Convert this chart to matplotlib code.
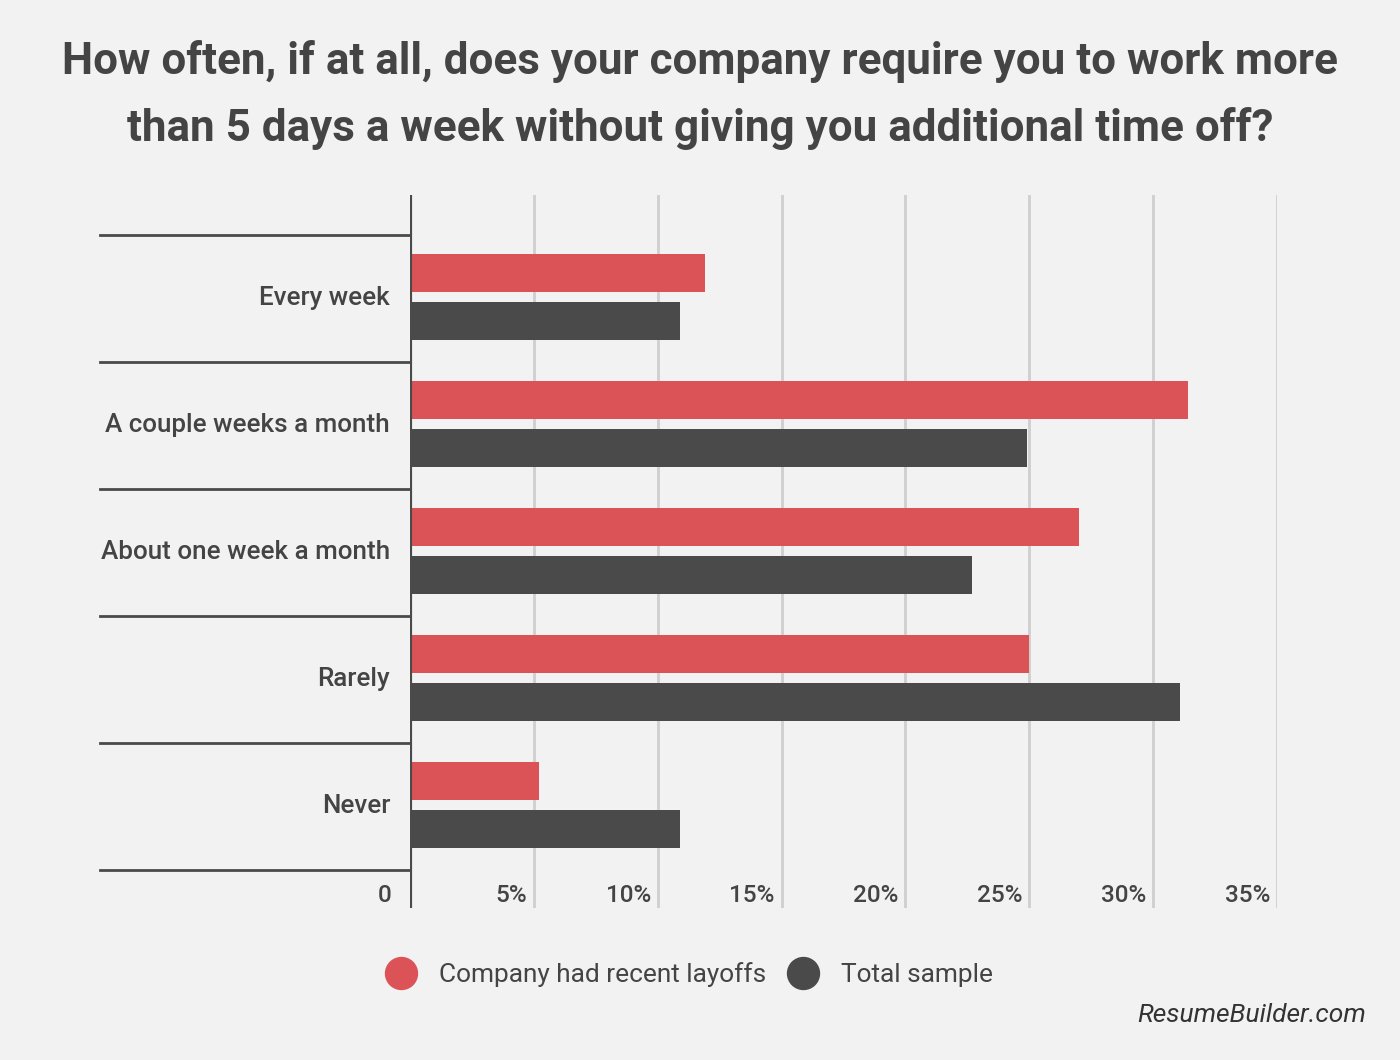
import numpy as np
import matplotlib
matplotlib.use("Agg")
import matplotlib.pyplot as plt
from matplotlib.lines import Line2D
from matplotlib.transforms import blended_transform_factory

categories = ["Every week", "A couple weeks a month", "About one week a month", "Rarely", "Never"]
layoffs = [11.9, 31.4, 27.0, 25.0, 5.2]
total = [10.9, 24.9, 22.7, 31.1, 10.9]
ticks = [0, 5, 10, 15, 20, 25, 30, 35]
tick_labels = ["0", "5%", "10%", "15%", "20%", "25%", "30%", "35%"]
series_names = ["Company had recent layoffs", "Total sample"]

BG = "#f2f2f2"
RED = "#dc5357"
DARK = "#4a4a4a"
TEXT = "#444444"

plt.rcParams["font.family"] = ["Roboto", "DejaVu Sans"]

fig = plt.figure(figsize=(14, 10.6), dpi=100, facecolor=BG)
ax = fig.add_axes([410 / 1400, 1 - 908 / 1060, 867 / 1400, 713 / 1060], facecolor=BG)

y = np.arange(len(categories))
ax.barh(y - 0.2, layoffs, height=0.3, color=RED, zorder=3)
ax.barh(y + 0.18, total, height=0.3, color=DARK, zorder=3)

ax.set_xlim(0, 35)
ax.set_ylim(len(categories) - 1 + 0.8, -0.815)

for t in ticks[1:]:
    ax.axvline(t, color="#cfcfcf", lw=2, zorder=1)
ax.axvline(0, color=DARK, lw=3, zorder=4)

for s in ax.spines.values():
    s.set_visible(False)
ax.set_xticks([])
ax.set_yticks([])

# tick labels sit inside the plot, left of each gridline
tb = blended_transform_factory(ax.transData, ax.transAxes)
for t, lab in zip(ticks, tick_labels):
    off = -0.75 if t == 0 else -0.28
    ax.text(t + off, 0.018, lab, transform=tb, ha="right", va="center",
            fontsize=17.5, fontweight="medium", color=TEXT)

# category separators and labels left of the axis
lb = blended_transform_factory(ax.transAxes, ax.transData)
for i in range(len(categories) + 1):
    ax.plot([-310 / 867, 0], [i - 0.5, i - 0.5], transform=lb, color=DARK,
            lw=2, clip_on=False, zorder=4)
for i, c in enumerate(categories):
    ax.text(-20 / 867, i, c, transform=lb, ha="right", va="center",
            fontsize=18.7, fontweight="medium", color=TEXT)

fig.text(0.5, 1 - 95 / 1060,
         "How often, if at all, does your company require you to work more\n"
         "than 5 days a week without giving you additional time off?",
         ha="center", va="center", fontsize=31.7, fontweight="bold", color=TEXT,
         linespacing=1.68)

handles = [Line2D([], [], marker="o", ls="none", markersize=23, color=RED),
           Line2D([], [], marker="o", ls="none", markersize=23, color=DARK)]
fig.legend(handles, series_names, loc="center", bbox_to_anchor=(689 / 1400, 1 - 975 / 1060),
           ncol=2, frameon=False, fontsize=18.9, labelcolor=TEXT,
           handletextpad=0.85, columnspacing=0.8, handlelength=1.2)

fig.text(1366 / 1400, 1 - 1015 / 1060, "ResumeBuilder.com", ha="right", va="center",
         fontsize=19, style="italic", color="#333333")

fig.savefig("out.png", dpi=100, facecolor=BG)
